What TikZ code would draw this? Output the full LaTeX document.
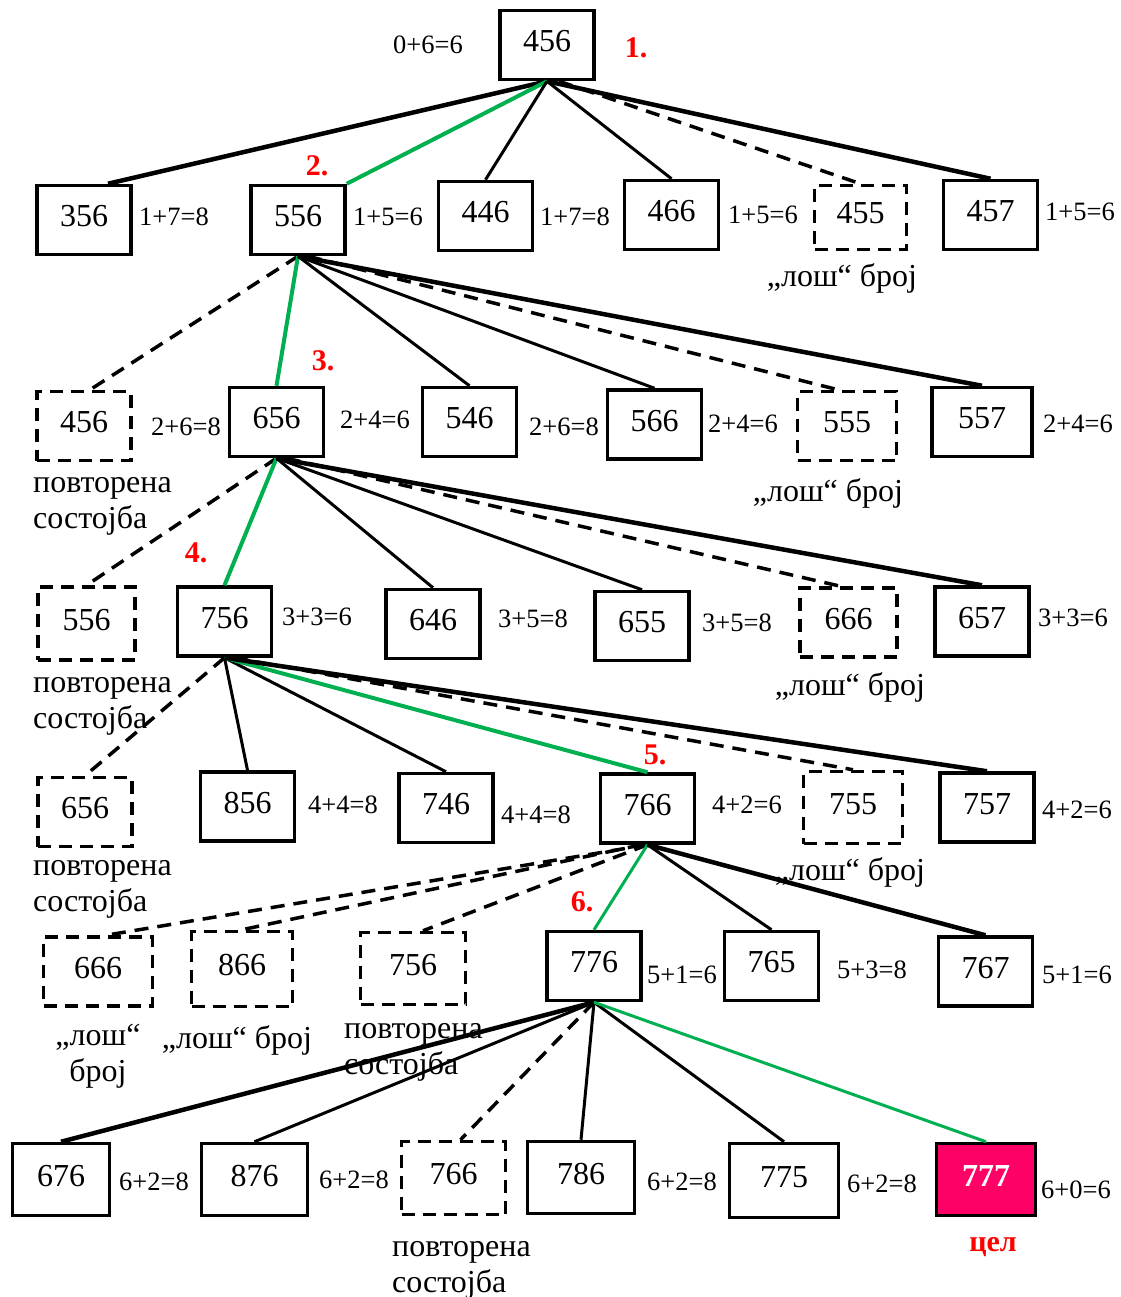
\documentclass[tikz,border=0pt]{standalone}
\usepackage{fontspec}
\setmainfont{Liberation Serif}
\definecolor{pathgreen}{RGB}{0,176,80}
\definecolor{goalpink}{RGB}{255,0,102}
\begin{document}
\begin{tikzpicture}[x=1pt,y=-1pt]
\tikzset{
  box/.style={draw, line width=3.5pt, fill=white, minimum width=94pt, minimum height=69pt,
    inner sep=0pt, text height=21pt, text depth=8pt, font=\fontsize{32}{36}\selectfont},
  dbox/.style={box, dash pattern=on 13pt off 8pt},
  cost/.style={font=\fontsize{26.5}{30}\selectfont, inner sep=0pt},
  note/.style={font=\fontsize{32}{36}\selectfont, inner sep=0pt},
  stepno/.style={font=\bfseries\fontsize{30}{34}\selectfont, text=red, inner sep=0pt},
  plain/.style={line width=3pt},
  heavy/.style={line width=4.5pt},
  dashedline/.style={line width=3.5pt, dash pattern=on 14pt off 9pt},
  bestline/.style={line width=4pt, draw=pathgreen},
}
\useasboundingbox (0,0) rectangle (1120,1297);

% level 0
\node[box] (r456) at (547,45) {456};
\node[cost] at (428,45) {0+6=6};
\node[stepno] at (636,48) {1.};

% level 1
\node[box] (a356) at (84,220) {356};
\node[box] (a556) at (298,220) {556};
\node[box] (a446) at (485.5,216) {446};
\node[box] (a466) at (671.5,215) {466};
\node[dbox, minimum width=92pt, minimum height=64pt] (a455) at (860.5,217.5) {455};
\node[box] (a457) at (990.5,215) {457};
\node[cost] at (174,217) {1+7=8};
\node[cost] at (388,217) {1+5=6};
\node[cost] at (575,217) {1+7=8};
\node[cost] at (763,215) {1+5=6};
\node[cost] at (1080,212) {1+5=6};
\node[stepno] at (317,166) {2.};
\node[note] at (842,278) {„лош“ број};

% level 2
\node[dbox] (b456) at (84,426) {456};
\node[box] (b656) at (276.5,422) {656};
\node[box] (b546) at (469.5,422) {546};
\node[box] (b566) at (654.5,424.5) {566};
\node[dbox, minimum width=99pt] (b555) at (847,426) {555};
\node[box, minimum width=100pt] (b557) at (982,422) {557};
\node[cost] at (186,427) {2+6=8};
\node[cost] at (375,420) {2+4=6};
\node[cost] at (564,427) {2+6=8};
\node[cost] at (743,424) {2+4=6};
\node[cost] at (1078,424) {2+4=6};
\node[stepno] at (323,361) {3.};
\node[note, align=left, anchor=west] at (33,506) {повторена\\состојба};
\node[note] at (828,493) {„лош“ број};

% level 3
\node[dbox, minimum width=97pt, minimum height=73pt] (c556) at (86.5,623.5) {556};
\node[box] (c756) at (224.5,621.5) {756};
\node[box] (c646) at (433,624) {646};
\node[box] (c655) at (642,626) {655};
\node[dbox, minimum width=97pt] (c666) at (848.5,622.5) {666};
\node[box] (c657) at (982,621.5) {657};
\node[cost] at (317,617) {3+3=6};
\node[cost] at (533,619) {3+5=8};
\node[cost] at (737,623) {3+5=8};
\node[cost] at (1073,618) {3+3=6};
\node[stepno] at (196,553) {4.};
\node[note, align=left, anchor=west] at (33,706) {повторена\\состојба};
\node[note] at (850,687) {„лош“ број};

% level 4
\node[dbox] (d656) at (85,812) {656};
\node[box] (d856) at (247.5,806.5) {856};
\node[box] (d746) at (446,808) {746};
\node[box] (d766) at (647.5,808.5) {766};
\node[dbox, minimum width=99pt, minimum height=72pt] (d755) at (853,807.5) {755};
\node[box] (d757) at (987,807.5) {757};
\node[cost] at (343,805) {4+4=8};
\node[cost] at (536,815) {4+4=8};
\node[cost] at (747,805) {4+2=6};
\node[cost] at (1077,810) {4+2=6};
\node[stepno] at (655,755) {5.};
\node[note, align=left, anchor=west] at (33,889) {повторена\\состојба};
\node[note] at (850,872) {„лош“ број};

% level 5
\node[dbox, minimum width=109pt] (e666) at (98,971.5) {666};
\node[dbox, minimum width=101pt, minimum height=75pt] (e866) at (242,969) {866};
\node[dbox, minimum width=105pt, minimum height=72pt] (e756) at (413,968.5) {756};
\node[box] (e776) at (594,966) {776};
\node[box] (e765) at (771.5,966) {765};
\node[box] (e767) at (985.5,971.5) {767};
\node[cost] at (682,975) {5+1=6};
\node[cost] at (872,970) {5+3=8};
\node[cost] at (1077,975) {5+1=6};
\node[stepno] at (582,902) {6.};
\node[note, align=center] at (98,1056) {„лош“\\број};
\node[note] at (237,1040) {„лош“ број};
\node[note, align=left, anchor=west] at (344,1052) {повторена\\состојба};

% level 6
\node[box, minimum width=97pt, minimum height=72pt] (f676) at (61,1179.5) {676};
\node[box, minimum width=106pt, minimum height=72pt] (f876) at (254.5,1179.5) {876};
\node[dbox, minimum width=104pt, minimum height=73pt] (f766) at (453.5,1178) {766};
\node[box, minimum width=107pt, minimum height=72pt] (f786) at (581,1177.5) {786};
\node[box, minimum width=109pt, minimum height=74pt] (f775) at (784,1180.5) {775};
\node[box, minimum width=99pt, minimum height=72pt, fill=goalpink, text=white,
      font=\bfseries\fontsize{32}{36}\selectfont] (f777) at (986,1179.5) {777};
\node[cost] at (154,1182) {6+2=8};
\node[cost] at (354,1180) {6+2=8};
\node[cost] at (682,1182) {6+2=8};
\node[cost] at (882,1184) {6+2=8};
\node[cost] at (1076,1190) {6+0=6};
\node[note, align=left, anchor=west] at (392,1270) {повторена\\состојба};
\node[note, text=red, font=\bfseries\fontsize{30}{36}\selectfont] at (993,1247) {цел};

% connectors from 456
\draw[heavy] (r456.south) -- ([xshift=24pt]a356.north);
\draw[bestline] (r456.south) -- (a556.north east);
\draw[plain] (r456.south) -- (a446.north);
\draw[plain] (r456.south) -- (a466.north);
\draw[dashedline] ([xshift=12pt]r456.south) -- (a455.north);
\draw[heavy] (r456.south) -- (a457.north);

% connectors from 556
\draw[dashedline] (a556.south) -- ([xshift=6pt]b456.north);
\draw[bestline] (a556.south) -- (b656.north);
\draw[plain] (a556.south) -- (b546.north);
\draw[plain] (a556.south) -- (b566.north);
\draw[dashedline] ([xshift=10pt]a556.south) -- ([xshift=-9pt]b555.north);
\draw[heavy] (a556.south) -- (b557.north);

% connectors from 656
\draw[dashedline] (b656.south) -- (c556.north);
\draw[bestline] (b656.south) -- (c756.north);
\draw[plain] (b656.south) -- (c646.north);
\draw[plain] (b656.south) -- (c655.north);
\draw[dashedline] ([xshift=10pt]b656.south) -- ([xshift=-8pt]c666.north);
\draw[heavy] (b656.south) -- (c657.north);

% connectors from 756
\draw[dashedline] (c756.south) -- (d656.north);
\draw[plain] (c756.south) -- (d856.north);
\draw[plain] (c756.south) -- (d746.north);
\draw[bestline] (c756.south) -- (d766.north);
\draw[dashedline] ([xshift=10pt]c756.south) -- (d755.north);
\draw[heavy] (c756.south) -- (d757.north);

% connectors from 766
\draw[dashedline] (d766.south) -- ([xshift=8pt]e666.north);
\draw[dashedline] ([xshift=-6pt]d766.south) -- (e866.north);
\draw[dashedline] (d766.south) -- ([xshift=10pt]e756.north);
\draw[bestline, line width=3pt] (d766.south) -- (e776.north);
\draw[plain] (d766.south) -- (e765.north);
\draw[heavy] (d766.south) -- (e767.north);

% connectors from 776
\draw[heavy] (e776.south) -- (f676.north);
\draw[plain] (e776.south) -- (f876.north);
\draw[dashedline] (e776.south) -- ([xshift=7pt]f766.north);
\draw[plain] (e776.south) -- (f786.north);
\draw[plain] (e776.south) -- (f775.north);
\draw[bestline, line width=3pt] (e776.south) -- (f777.north);
\end{tikzpicture}
\end{document}
